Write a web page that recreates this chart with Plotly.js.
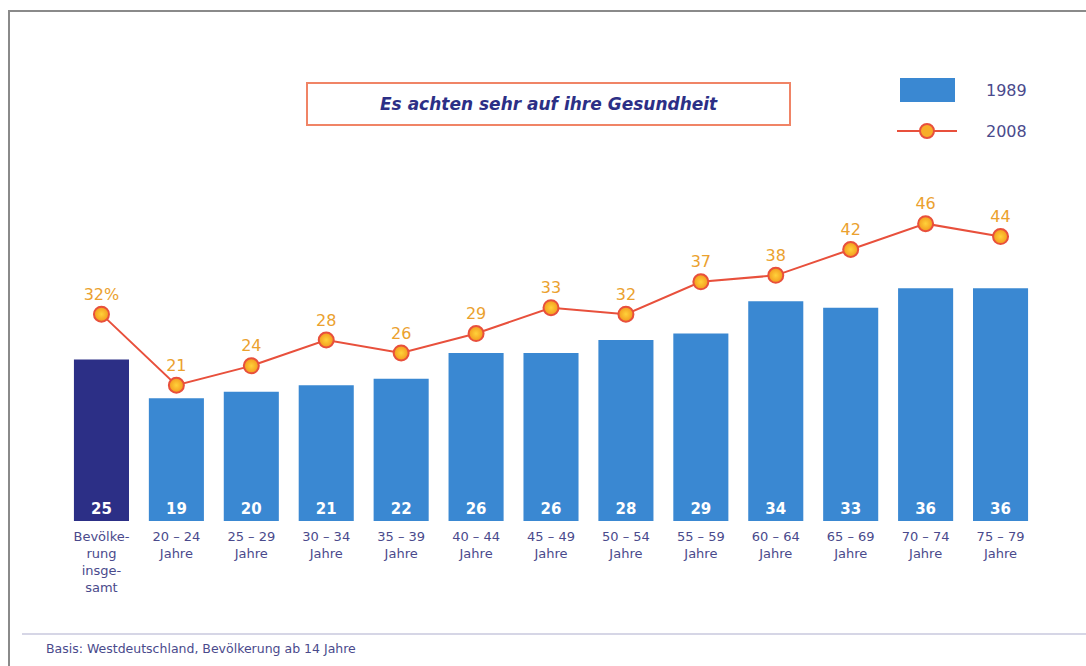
<!DOCTYPE html>
<html>
<head>
<meta charset="utf-8">
<script src="https://cdn.plot.ly/plotly-3.0.1.min.js"></script>
<style>html,body{margin:0;padding:0;background:#fff;}#chart{width:1086px;height:666px;}</style>
</head>
<body>
<div id="chart"></div>
<script>
// ---- data ----
const categories = [
  "Bevölke-<br>rung<br>insge-<br>samt",
  "20 – 24<br>Jahre", "25 – 29<br>Jahre", "30 – 34<br>Jahre", "35 – 39<br>Jahre",
  "40 – 44<br>Jahre", "45 – 49<br>Jahre", "50 – 54<br>Jahre", "55 – 59<br>Jahre",
  "60 – 64<br>Jahre", "65 – 69<br>Jahre", "70 – 74<br>Jahre", "75 – 79<br>Jahre"
];
const values1989 = [25, 19, 20, 21, 22, 26, 26, 28, 29, 34, 33, 36, 36];
const values2008 = [32, 21, 24, 28, 26, 29, 33, 32, 37, 38, 42, 46, 44];
const seriesNames = ["1989", "2008"];
const chartTitle = "Es achten sehr auf ihre Gesundheit";
const footnote = "Basis: Westdeutschland, Bevölkerung ab 14 Jahre";

// ---- layout helpers (pixel -> paper) ----
const L = 64, R = 48, T = 159, B = 145, W = 1086, H = 666;
const pw = W - L - R, ph = H - T - B;
const px = x => (x - L) / pw;
const py = y => (H - B - y) / ph;

const FONT = "DejaVu Sans, Verdana, sans-serif";
const darkBlue = "#2c2f86";
const lightBlue = "#3a88d2";
const lineRed = "#e8503c";
const labelOrange = "#eba12e";
const textNavy = "#4a4a8c";

const barColors = categories.map((c, i) => i === 0 ? darkBlue : lightBlue);

const bars = {
  type: "bar",
  name: seriesNames[0],
  x: categories,
  y: values1989,
  marker: {color: barColors},
  text: values1989.map(String),
  textposition: "inside",
  insidetextanchor: "start",
  textangle: 0,
  constraintext: "none",
  textfont: {color: "#ffffff", size: 15, family: FONT, weight: "bold"},
  hoverinfo: "x+y",
  showlegend: false
};

const line = {
  type: "scatter",
  mode: "lines+markers+text",
  name: seriesNames[1],
  x: categories,
  y: values2008,
  text: values2008.map((v, i) => i === 0 ? v + "%" : String(v)),
  textposition: "top center",
  textfont: {color: labelOrange, size: 16, family: FONT},
  line: {color: lineRed, width: 2},
  marker: {
    size: 15,
    color: "#f39a1e",
    gradient: {type: "radial", color: "#ffd23a"},
    line: {color: lineRed, width: 2}
  },
  cliponaxis: false,
  showlegend: false
};

const shapes = [
  // outer frame (top and left edges visible)
  {type: "line", xref: "paper", yref: "paper", x0: px(8), x1: px(1090), y0: py(11), y1: py(11), line: {color: "#8a8a8a", width: 2}},
  {type: "line", xref: "paper", yref: "paper", x0: px(9), x1: px(9), y0: py(10), y1: py(670), line: {color: "#8a8a8a", width: 2}},
  // footer separator
  {type: "line", xref: "paper", yref: "paper", x0: px(22), x1: px(1090), y0: py(634), y1: py(634), line: {color: "#d6d6e6", width: 2}},
  // title box
  {type: "rect", xref: "paper", yref: "paper", x0: px(307), x1: px(790), y0: py(83), y1: py(125), line: {color: "#f08466", width: 2}, fillcolor: "rgba(0,0,0,0)"},
  // legend: bar swatch
  {type: "rect", xref: "paper", yref: "paper", x0: px(900), x1: px(955), y0: py(78), y1: py(102), line: {width: 0}, fillcolor: lightBlue},
  // legend: line swatch
  {type: "line", xref: "paper", yref: "paper", x0: px(897), x1: px(957), y0: py(131), y1: py(131), line: {color: lineRed, width: 2}},
  {type: "circle", xref: "paper", yref: "paper", x0: px(920), x1: px(934), y0: py(124), y1: py(138), line: {color: lineRed, width: 2}, fillcolor: "#f7ad28"}
];

const annotations = [
  {xref: "paper", yref: "paper", x: px(549), y: py(104), text: "<b><i>" + chartTitle + "</i></b>", showarrow: false,
   font: {size: 17, color: darkBlue, family: FONT}, xanchor: "center", yanchor: "middle"},
  {xref: "paper", yref: "paper", x: px(984), y: py(90), text: seriesNames[0], showarrow: false,
   font: {size: 16, color: textNavy, family: FONT}, xanchor: "left", yanchor: "middle"},
  {xref: "paper", yref: "paper", x: px(984), y: py(131), text: seriesNames[1], showarrow: false,
   font: {size: 16, color: textNavy, family: FONT}, xanchor: "left", yanchor: "middle"},
  {xref: "paper", yref: "paper", x: px(44), y: py(648), text: footnote, showarrow: false,
   font: {size: 12.5, color: textNavy, family: FONT}, xanchor: "left", yanchor: "middle"}
];

const layout = {
  width: W, height: H,
  margin: {l: L, r: R, t: T, b: B},
  paper_bgcolor: "#ffffff",
  plot_bgcolor: "#ffffff",
  bargap: 0.265,
  showlegend: false,
  font: {family: FONT, color: textNavy},
  xaxis: {
    type: "category",
    range: [-0.5, categories.length - 0.5],
    autorange: false,
    showgrid: false, zeroline: false, showline: false, ticks: "",
    tickfont: {size: 13, color: textNavy, family: FONT},
    ticklabelstandoff: 6,
    fixedrange: true
  },
  yaxis: {
    range: [0, 56],
    autorange: false,
    visible: false,
    showgrid: false, zeroline: false,
    fixedrange: true
  },
  shapes: shapes,
  annotations: annotations
};

Plotly.newPlot("chart", [bars, line], layout, {displayModeBar: false, staticPlot: true});
</script>
</body>
</html>
